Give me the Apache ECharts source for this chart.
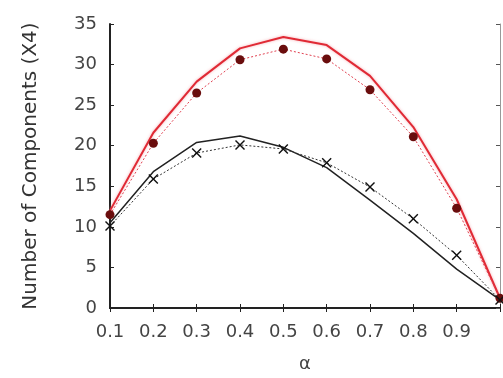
<!DOCTYPE html>
<html><head><meta charset="utf-8">
<script src="https://cdn.jsdelivr.net/npm/echarts@6/dist/echarts.min.js"></script>
<style>html,body{margin:0;padding:0;background:#fff}#c{width:503px;height:378px}</style>
</head><body><div id="c"></div>
<script>
const alphas = [0.1,0.2,0.3,0.4,0.5,0.6,0.7,0.8,0.9,1.0];
const redSolid = [12.0,21.6,27.9,32.0,33.4,32.4,28.6,22.3,13.4,1.2];
const redDots = [11.5,20.3,26.5,30.6,31.9,30.7,26.9,21.1,12.3,1.2];
const blackSolid = [10.5,16.8,20.4,21.2,19.8,17.3,13.3,9.2,4.8,1.0];
const blackCross = [10.1,15.9,19.1,20.1,19.6,17.9,14.9,11.0,6.5,1.0];
const yTicks = [0,5,10,15,20,25,30,35];

const pair = arr => alphas.map((a,i)=>[a,arr[i]]);
const font = 'DejaVu Sans, sans-serif';
const crossPath = 'path://M0,1L1,0L5,4L9,0L10,1L6,5L10,9L9,10L5,6L1,10L0,9L4,5Z';

const chart = echarts.init(document.getElementById('c'), null, {renderer:'canvas'});
const axLine = {show:true, lineStyle:{color:'#222', width:2}};
chart.setOption({
  animation:false,
  grid:{left:110, top:24, right:1, bottom:68},
  xAxis:[{
    type:'value', min:0.1, max:1.0, interval:0.1, position:'bottom',
    axisLine:axLine, axisTick:{show:true, inside:true, length:4, lineStyle:{color:'#222'}},
    splitLine:{show:false},
    axisLabel:{color:'#444', fontSize:18, fontFamily:font, margin:15,
      formatter:v=> (Math.abs(v-1)<1e-6 ? '' : v.toFixed(1))},
    name:'α', nameLocation:'middle', nameGap:47,
    nameTextStyle:{color:'#444', fontSize:18, fontFamily:font}
  },{
    type:'value', min:0.1, max:1.0, interval:0.1, position:'top',
    axisLine:axLine, axisTick:{show:true, inside:true, length:4, lineStyle:{color:'#222'}},
    axisLabel:{show:false}, splitLine:{show:false}
  }],
  yAxis:[{
    type:'value', min:0, max:35, interval:5,
    axisLine:axLine, axisTick:{show:true, inside:true, length:4, lineStyle:{color:'#222'}},
    splitLine:{show:false},
    axisLabel:{color:'#444', fontSize:18, fontFamily:font, margin:13,
      formatter:v=> yTicks.includes(v) ? String(v) : ''},
    name:'Number of Components (X4)', nameLocation:'middle', nameGap:69,
    nameTextStyle:{color:'#333', fontSize:20, fontFamily:font}
  },{
    type:'value', min:0, max:35, interval:5, position:'right',
    axisLine:{show:true, lineStyle:{color:'#999', width:1}},
    axisTick:{show:true, inside:true, length:4, lineStyle:{color:'#555'}},
    axisLabel:{show:false}, splitLine:{show:false}
  }],
  series:[
    {type:'line', data:pair(redSolid), symbol:'none',
      lineStyle:{color:'#e02a35', width:2, shadowColor:'rgba(240,120,130,0.6)', shadowBlur:3}, z:3},
    {type:'line', data:pair(redDots), symbol:'circle', symbolSize:9,
      itemStyle:{color:'#6a0d0d'},
      lineStyle:{color:'#e04050', width:1, type:[2,2]}, z:4},
    {type:'line', data:pair(blackSolid), symbol:'none',
      lineStyle:{color:'#222', width:1.5}, z:3},
    {type:'line', data:pair(blackCross), symbol:crossPath, symbolSize:10,
      itemStyle:{color:'#111'},
      lineStyle:{color:'#333', width:1, type:[2,2]}, z:4}
  ]
});
</script></body></html>
